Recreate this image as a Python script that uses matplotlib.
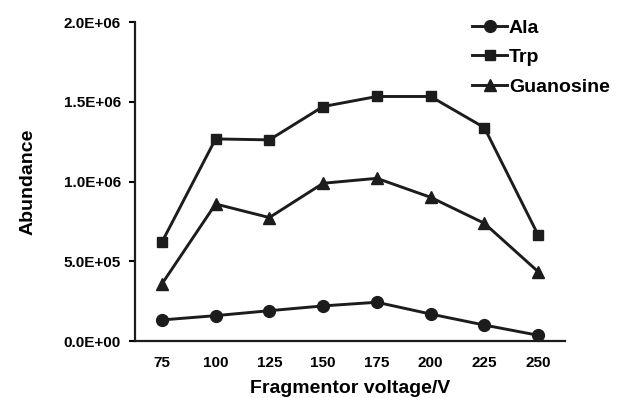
import matplotlib
matplotlib.use("Agg")
import matplotlib.pyplot as plt

plt.rcParams['font.family'] = ['Liberation Sans', 'DejaVu Sans']
plt.rcParams['font.weight'] = 'bold'

voltages = ["75", "100", "125", "150", "175", "200", "225", "250"]
ala = [0.132e6, 0.159e6, 0.190e6, 0.220e6, 0.243e6, 0.169e6, 0.100e6, 0.036e6]
trp = [0.619e6, 1.267e6, 1.261e6, 1.470e6, 1.533e6, 1.533e6, 1.338e6, 0.665e6]
guanosine = [0.357e6, 0.859e6, 0.774e6, 0.989e6, 1.020e6, 0.901e6, 0.738e6, 0.435e6]
yticks = [0, 0.5e6, 1.0e6, 1.5e6, 2.0e6]
ytick_labels = ["0.0E+00", "5.0E+05", "1.0E+06", "1.5E+06", "2.0E+06"]

fig = plt.figure(figsize=(6.18, 3.98), dpi=100)
ax = fig.add_axes([0.2184, 0.1432, 0.6958, 0.8015])

x = list(range(len(voltages)))
col = '#1c1c1c'
ax.plot(x, ala, marker='o', color=col, lw=2.1, ms=8.5, label='Ala', clip_on=False)
ax.plot(x, trp, marker='s', color=col, lw=2.1, ms=7.5, label='Trp', clip_on=False)
ax.plot(x, guanosine, marker='^', color=col, lw=2.1, ms=9, label='Guanosine', clip_on=False)

ax.set_xlim(-0.5, len(voltages) - 0.5)
ax.set_ylim(0, 2.0e6)
ax.set_xticks(x)
ax.set_xticklabels(voltages)
ax.set_yticks(yticks)
ax.set_yticklabels(ytick_labels)
ax.tick_params(axis='x', length=0, pad=11, labelsize=11)
ax.tick_params(axis='y', length=4, width=1.5, direction='out', pad=6, labelsize=11)

for s in ['top', 'right']:
    ax.spines[s].set_visible(False)
for s in ['left', 'bottom']:
    ax.spines[s].set_linewidth(1.6)
    ax.spines[s].set_color(col)

ax.set_xlabel('Fragmentor voltage/V', fontsize=14, fontweight='bold', labelpad=7)
ax.set_ylabel('Abundance', fontsize=14, fontweight='bold', labelpad=20)

leg = fig.legend(loc='upper left', bbox_to_anchor=(472 / 618, 1 - 19 / 398),
                 frameon=False, fontsize=14, handlelength=1.8, handletextpad=0.1,
                 labelspacing=0.62, borderaxespad=0, borderpad=0)

fig.savefig('out.png', dpi=100)
